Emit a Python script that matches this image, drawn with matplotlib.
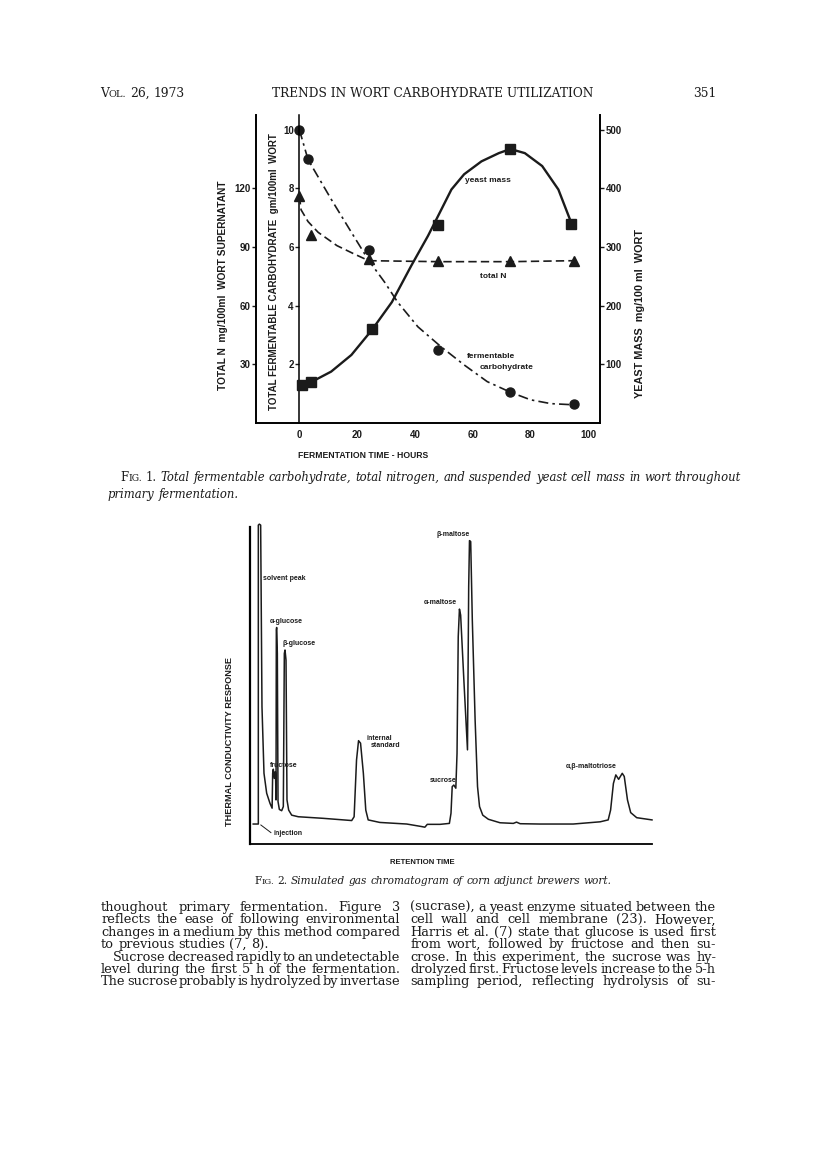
import matplotlib
matplotlib.use("Agg")
import matplotlib.pyplot as plt

W, H = 816, 1154
INK = "#1b1b1b"
SANS = ["Liberation Sans", "DejaVu Sans"]
SERIF = ["DejaVu Serif"]

# ---- Fig. 1 values ----
carb_hours = [0, 3, 24, 48, 73, 95]
carb_values = [10.0, 9.0, 5.9, 2.5, 1.05, 0.65]          # gm/100 ml
n_hours = [0, 4, 24, 48, 73, 95]
n_values = [116, 96, 84, 83, 83, 83]                      # mg/100 ml
yeast_hours = [1, 4, 25, 48, 73, 94]
yeast_values = [64, 70, 160, 338, 467, 340]               # mg/100 ml

# hand drawn fitted curves
carb_curve_hours = [0, 3, 11, 18, 24, 29.5, 34, 41, 49, 57, 65, 73, 80, 87, 95]
carb_curve = [10.0, 8.98, 7.63, 6.5, 5.54, 4.8, 4.12, 3.28, 2.6, 1.98, 1.41, 1.05, 0.79, 0.66, 0.62]
n_curve_hours = [0, 0.6, 3, 6.5, 13, 19, 24, 48, 73, 95]
n_curve = [116, 109, 103, 97.5, 90.7, 86.4, 83, 82.5, 82.5, 83]
yeast_curve_hours = [1, 4, 11, 18, 25, 32, 38.7, 44.5, 48, 52.6, 57, 63, 69, 73, 78, 84, 89.6, 94]
yeast_curve = [64, 69.5, 87.6, 116, 158, 206, 268, 319, 353, 398, 424, 446, 460, 467, 460, 438, 398, 342]

x_ticks = [0, 20, 40, 60, 80, 100]
carb_ticks = [2, 4, 6, 8, 10]
n_ticks = [30, 60, 90, 120]
yeast_ticks = [100, 200, 300, 400, 500]

# ---- Fig. 2 trace (retention 0-100, response 0-100) ----
retention = [0.8, 2.07, 2.07, 2.32, 2.65, 2.98, 3.48, 4.15, 4.98, 5.5,
             5.64, 5.8, 6.05, 6.3, 6.38, 6.47, 6.55, 6.63, 6.8, 6.97, 7.3,
             7.88, 8.29, 8.54, 8.71, 8.96, 9.2, 9.62, 10.37, 12.0, 18.2, 25.3,
             25.9, 26.5, 27.0, 27.5, 28.2, 28.8, 29.4, 32.3, 39.0, 42.7, 43.5,
             44.1, 47.3, 49.6,
             50.0, 50.3, 50.7, 51.2, 51.5, 51.8, 52.1, 52.4, 53.2, 54.1, 54.4,
             54.6, 54.9, 55.3, 56.0, 56.6, 57.1, 57.9, 59.3, 62.2,
             65.5, 66.3, 67.2, 72.1, 80.4, 87.1, 89.1, 89.7, 90.4, 91.0, 91.7,
             92.6, 93.1, 93.9, 94.7, 96.2, 100.0]
response = [6.3, 6.3, 100.6, 100.9, 100.6, 43.3, 22.3, 16.0, 12.8, 11.3,
            22.3, 23.6, 20.7, 22.8, 20.2, 13.9, 67.5, 68.3, 60.1, 13.4, 10.9,
            10.5, 11.8, 60.1, 61.2, 58.0, 13.9, 10.7, 9.1, 8.6, 8.1, 7.4,
            8.6, 26.5, 32.6, 31.8, 22.3, 10.7, 7.6, 6.8, 6.3, 5.5, 5.3,
            6.2, 6.2, 6.5,
            9.7, 18.1, 18.6, 17.6, 28.6, 65.4, 74.1, 72.2, 51.7, 29.7, 81.2,
            95.7, 95.4, 70.7, 39.1, 18.1, 11.8, 9.1, 7.8, 6.7,
            6.5, 6.9, 6.4, 6.3, 6.3, 7.0, 7.6, 10.7, 19.1, 21.8, 20.4,
            22.3, 21.3, 13.9, 9.9, 8.3, 7.6]
peak_names = ["solvent peak", "α-glucose", "β-glucose", "fructose", "internal",
              "standard", "sucrose", "α-maltose", "β-maltose", "α,β-maltotriose"]
peak_label_t = [3.3, 4.8, 8.0, 5.0, 28.9, 30.1, 44.8, 43.1, 46.4, 78.6]
peak_label_r = [83.6, 70.1, 63.1, 24.9, 33.3, 31.2, 19.9, 76.1, 97.6, 24.4]


def fx(x):
    return x / W


def fy(y):
    return 1 - y / H


def box(x0, y0, x1, y1):
    return [fx(x0), fy(y1), (x1 - x0) / W, (y1 - y0) / H]


fig = plt.figure(figsize=(W / 100, H / 100), dpi=100)
fig.patch.set_facecolor("white")
renderer = fig.canvas.get_renderer()


def width_of(s, kw):
    t = fig.text(0, 0, s, **kw)
    w = t.get_window_extent(renderer=renderer).width
    t.remove()
    return w


def draw_words(words, x0, x1, y, justify=True, indent=0):
    # words: list of words, each a list of (string, text kwargs) pieces
    widths = [sum(width_of(s, kw) for s, kw in word) for word in words]
    kw0 = words[-1][-1][1]
    space = width_of("n n", kw0) - width_of("nn", kw0)
    if justify and len(words) > 1:
        gap = (x1 - x0 - indent - sum(widths)) / (len(words) - 1)
    else:
        gap = space
    x = x0 + indent
    for word, w in zip(words, widths):
        xx = x
        for s, kw in word:
            fig.text(fx(xx), fy(y), s, ha="left", va="baseline", **kw)
            xx += width_of(s, kw)
        x += w + gap


def plain(line, kw):
    return [[(w, kw)] for w in line.split()]


# ---- running head ----
hdr = dict(family=SERIF, size=8.8, color=INK)
hdr_sc = dict(family=SERIF, size=7.0, color=INK)
draw_words([[("V", hdr), ("OL.", hdr_sc)], [("26,", hdr)], [("1973", hdr)]],
           100, 300, 97, justify=False)
fig.text(fx(433), fy(97), "TRENDS IN WORT CARBOHYDRATE UTILIZATION",
         ha="center", va="baseline", **hdr)
fig.text(fx(716), fy(97), "351", ha="right", va="baseline", **hdr)

# ---- Fig. 1 ----
bold = dict(family=SANS, fontweight="bold", color=INK)
ax = fig.add_axes(box(256, 115, 600, 423))
ax.set_xlim(-15, 104)
ax.set_ylim(0, 10.5)
ax.patch.set_alpha(0)
for side in ["top", "right"]:
    ax.spines[side].set_visible(False)
ax.spines["left"].set_position(("data", 0))
ax.spines["left"].set_linewidth(1.1)
ax.spines["bottom"].set_linewidth(1.4)
ax.set_xticks(x_ticks, labels=[str(v) for v in x_ticks], fontsize=7, **bold)
ax.tick_params(axis="x", length=0, pad=5)
ax.set_yticks(carb_ticks, labels=[str(v) for v in carb_ticks], fontsize=7, **bold)
ax.tick_params(axis="y", direction="out", length=3, width=1, pad=1, color=INK)

axn = ax.twinx()
axn.set_ylim(0, 157.5)
axn.yaxis.tick_left()
for side in ["top", "right", "bottom"]:
    axn.spines[side].set_visible(False)
axn.spines["left"].set_linewidth(1.4)
axn.set_yticks(n_ticks, labels=[str(v) for v in n_ticks], fontsize=7, **bold)
axn.tick_params(axis="y", direction="out", length=3, width=1, pad=1, color=INK)

axy = ax.twinx()
axy.set_ylim(0, 525)
for side in ["top", "left", "bottom"]:
    axy.spines[side].set_visible(False)
axy.spines["right"].set_linewidth(1.4)
axy.set_yticks(yeast_ticks, labels=[str(v) for v in yeast_ticks], fontsize=7, **bold)
axy.tick_params(axis="y", direction="out", length=3, width=1, pad=1, color=INK)

ax.plot(carb_curve_hours, carb_curve, color=INK, lw=1.2, dashes=(6, 2.5, 1.5, 2.5))
ax.plot(carb_hours, carb_values, "o", ms=6.5, color=INK, clip_on=False)
axn.plot(n_curve_hours, n_curve, color=INK, lw=1.2, dashes=(5, 2.5))
axn.plot(n_hours, n_values, "^", ms=6.5, color=INK, clip_on=False)
axy.plot(yeast_curve_hours, yeast_curve, color=INK, lw=1.7)
axy.plot(yeast_hours, yeast_values, "s", ms=6.5, color=INK, clip_on=False)

ax.text(57.3, 8.25, "yeast mass", fontsize=6, va="center", **bold)
ax.text(62.5, 5.0, "total N", fontsize=6, va="center", **bold)
ax.text(58, 2.25, "fermentable", fontsize=6, va="center", **bold)
ax.text(62.5, 1.9, "carbohydrate", fontsize=6, va="center", **bold)

fig.text(fx(223), fy(285), "TOTAL N  mg/100ml  WORT SUPERNATANT", rotation=90,
         ha="center", va="center", fontsize=7.3, **bold)
fig.text(fx(274), fy(272), "TOTAL FERMENTABLE CARBOHYDRATE  gm/100ml  WORT",
         rotation=90, ha="center", va="center", fontsize=7, **bold)
fig.text(fx(640), fy(314), "YEAST MASS  mg/100 ml  WORT", rotation=90,
         ha="center", va="center", fontsize=7.8, **bold)
fig.text(fx(363), fy(456), "FERMENTATION TIME - HOURS", ha="center", va="center",
         fontsize=6.2, **bold)

rom = dict(family=SERIF, size=8.4, color=INK)
sc = dict(family=SERIF, size=6.7, color=INK)
ital = dict(family=SERIF, size=8.4, style="italic", color=INK)
cap1 = [[("F", rom), ("IG.", sc)], [("1.", rom)]] + plain(
    "Total fermentable carbohydrate, total nitrogen, and suspended yeast cell mass in wort throughout", ital)
draw_words(cap1, 120, 741, 481)
draw_words(plain("primary fermentation.", ital), 108, 741, 498, justify=False)

# ---- Fig. 2 ----
axc = fig.add_axes(box(250, 527, 652, 844))
axc.set_xlim(0, 100)
axc.set_ylim(0, 100)
axc.patch.set_alpha(0)
for side in ["top", "right"]:
    axc.spines[side].set_visible(False)
axc.spines["left"].set_linewidth(1.6)
axc.spines["bottom"].set_linewidth(1.3)
axc.set_xticks([])
axc.set_yticks([])
axc.plot(retention, response, color=INK, lw=1.1, clip_on=False)
axc.plot([2.7, 5.2], [6.0, 3.6], color=INK, lw=0.7)
axc.text(5.8, 3.2, "injection", fontsize=5, va="center", **bold)
for name, t, r in zip(peak_names, peak_label_t, peak_label_r):
    axc.text(t, r, name, fontsize=5, va="center", ha="left", **bold)

fig.text(fx(229), fy(742), "THERMAL CONDUCTIVITY RESPONSE", rotation=90,
         ha="center", va="center", fontsize=6.6, **bold)
fig.text(fx(422), fy(863), "RETENTION TIME", ha="center", va="center",
         fontsize=5.6, **bold)

cap2_rom = dict(family=SERIF, size=7.6, color=INK)
cap2_sc = dict(family=SERIF, size=6.1, color=INK)
cap2_it = dict(family=SERIF, size=7.6, style="italic", color=INK)
cap2 = [[("F", cap2_rom), ("IG.", cap2_sc)], [("2.", cap2_rom)]] + plain(
    "Simulated gas chromatogram of corn adjunct brewers wort.", cap2_it)
draw_words(cap2, 254, 741, 884, justify=False)

# ---- body text ----
body = dict(family=SERIF, size=9.3, color=INK)
left_lines = [
    "thoughout primary fermentation. Figure 3",
    "reflects the ease of following environmental",
    "changes in a medium by this method compared",
    "to previous studies (7, 8).",
    "Sucrose decreased rapidly to an undetectable",
    "level during the first 5 h of the fermentation.",
    "The sucrose probably is hydrolyzed by invertase",
]
right_lines = [
    "(sucrase), a yeast enzyme situated between the",
    "cell wall and cell membrane (23). However,",
    "Harris et al. (7) state that glucose is used first",
    "from wort, followed by fructose and then su-",
    "crose. In this experiment, the sucrose was hy-",
    "drolyzed first. Fructose levels increase to the 5-h",
    "sampling period, reflecting hydrolysis of su-",
]
for i, line in enumerate(left_lines):
    y = 911 + i * 12.4
    draw_words(plain(line, body), 101, 400, y, justify=(i != 3),
               indent=(12 if i == 4 else 0))
for i, line in enumerate(right_lines):
    y = 911 + i * 12.4
    draw_words(plain(line, body), 410, 716, y)

fig.savefig("out.png", dpi=100, facecolor="white")
